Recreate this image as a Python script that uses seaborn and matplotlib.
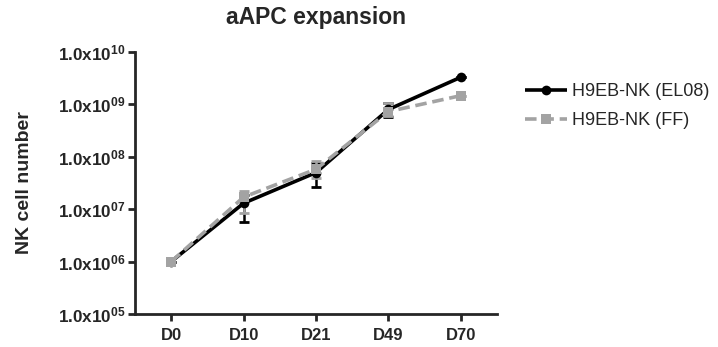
import matplotlib
matplotlib.use("Agg")
import matplotlib.pyplot as plt
from matplotlib.ticker import FixedLocator, FuncFormatter, NullLocator
import seaborn as sns
import numpy as np
import pandas as pd

# values
days = ["D0", "D10", "D21", "D49", "D70"]
el08_mean = [1.0e6, 1.3e7, 5.0e7, 8.0e8, 3.3e9]
el08_low = [1.0e6, 5.6e6, 2.6e7, 5.7e8, 3.3e9]
el08_high = [1.0e6, 1.9e7, 7.5e7, 1.05e9, 3.3e9]
ff_mean = [1.0e6, 1.7e7, 5.8e7, 7.3e8, 1.47e9]
ff_low = [1.0e6, 8.3e6, 4.0e7, 5.9e8, 1.47e9]
ff_high = [1.0e6, 2.2e7, 8.2e7, 1.07e9, 1.47e9]
series_names = ["H9EB-NK (EL08)", "H9EB-NK (FF)"]
y_exponents = [5, 6, 7, 8, 9, 10]

sns.set_style("ticks")
plt.rcParams["font.family"] = ["Liberation Sans", "DejaVu Sans"]
plt.rcParams["mathtext.fontset"] = "custom"
plt.rcParams["mathtext.rm"] = "Liberation Sans:bold"
plt.rcParams["mathtext.it"] = "Liberation Sans:bold"
plt.rcParams["mathtext.bf"] = "Liberation Sans:bold"

df = pd.DataFrame({
    "day": days * 2,
    "x": list(range(len(days))) * 2,
    "cells": el08_mean + ff_mean,
    "series": [series_names[0]] * len(days) + [series_names[1]] * len(days),
})

black = "#000000"
gray = "#a3a3a3"

fig, ax = plt.subplots(figsize=(7.18, 3.47), dpi=100)
fig.subplots_adjust(left=135 / 718, right=497 / 718, top=1 - 52 / 347, bottom=1 - 314 / 347)

# error bars first, lines on top
x = np.arange(len(days))
for mean, low, high, col in [(el08_mean, el08_low, el08_high, black),
                             (ff_mean, ff_low, ff_high, gray)]:
    mean = np.array(mean)
    yerr = [mean - np.array(low), np.array(high) - mean]
    ax.errorbar(x, mean, yerr=yerr, fmt="none", ecolor=col, elinewidth=1.8,
                capsize=3.6, capthick=2, zorder=2)

sns.lineplot(data=df, x="x", y="cells", hue="series", style="series",
             palette=[black, gray], markers=["o", "s"],
             dashes=[(1, 0), (3.2, 1.6)], linewidth=2.6, markersize=7,
             markeredgewidth=0, ax=ax, legend=True, zorder=3)

ax.set_yscale("log")
ax.set_ylim(1e5, 1e10)
ax.set_xlim(-0.5, 4.5)
ax.yaxis.set_major_locator(FixedLocator([10.0 ** e for e in y_exponents]))
ax.yaxis.set_minor_locator(NullLocator())
ax.yaxis.set_major_formatter(FuncFormatter(
    lambda v, p: "1.0x10$^{%02d}$" % int(round(np.log10(v)))))
ax.set_xticks(x)
ax.set_xticklabels(days)

for lab in ax.get_yticklabels():
    lab.set_fontweight("bold")
    lab.set_fontsize(12.3)
for lab in ax.get_xticklabels():
    lab.set_fontweight("bold")
    lab.set_fontsize(12)

ax.tick_params(axis="both", direction="out", length=5, width=2, pad=2)
ax.tick_params(axis="x", pad=5)
sns.despine(ax=ax)
for s in ["left", "bottom"]:
    ax.spines[s].set_linewidth(2)

ax.set_xlabel("")
ax.set_ylabel("NK cell number", fontsize=14, fontweight="bold", labelpad=18)
ax.set_title("aAPC expansion", fontsize=16.5, fontweight="bold", pad=20)

handles, labels = ax.get_legend_handles_labels()
ax.legend(handles, labels, loc="upper left", bbox_to_anchor=(509 / 718, 1 - 67 / 347),
          bbox_transform=fig.transFigure, frameon=False, fontsize=13,
          handlelength=2.3, handletextpad=0.3, labelspacing=0.65)

fig.savefig("out.png", dpi=100)
